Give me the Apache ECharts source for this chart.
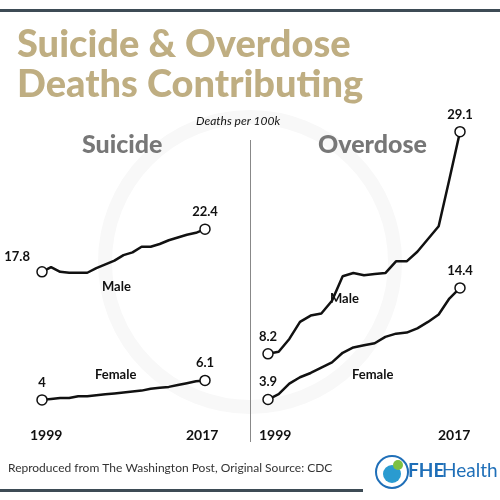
<!DOCTYPE html>
<html><head><meta charset="utf-8">
<script src="https://cdn.jsdelivr.net/npm/echarts@6/dist/echarts.min.js"></script>
<style>html,body{margin:0;padding:0;background:#fff}#c{width:500px;height:500px}</style>
</head><body><div id="c"></div>
<script>
const years = ['1999','2000','2001','2002','2003','2004','2005','2006','2007','2008','2009','2010','2011','2012','2013','2014','2015','2016','2017'];
const suicideMale = [17.8,18.3,17.8,17.7,17.7,17.7,18.2,18.6,19.0,19.6,19.9,20.5,20.5,20.8,21.2,21.5,21.8,22.0,22.4];
const suicideFemale = [4.0,4.1,4.2,4.2,4.4,4.4,4.5,4.6,4.7,4.8,4.9,5.0,5.2,5.3,5.4,5.6,5.8,6.0,6.1];
const overdoseMale = [8.2,8.4,9.6,11.2,11.8,12.0,13.2,15.5,15.8,15.6,15.7,15.8,16.9,16.9,17.8,19.0,20.2,24.6,29.1];
const overdoseFemale = [3.9,4.4,5.4,6.0,6.4,6.9,7.4,8.3,8.8,9.0,9.2,9.8,10.1,10.2,10.6,11.2,11.9,13.4,14.4];

function mk(vals, gi, firstPos) {
  const n = vals.length;
  return {
    type:'line', xAxisIndex:gi, yAxisIndex:gi, silent:true, clip:false, showAllSymbol:true,
    lineStyle:{color:'#111',width:2.5}, symbol:'none',
    data: vals.map((v,i)=> (i===0||i===n-1) ? {
      value:v, symbol:'circle', symbolSize:10,
      itemStyle:{color:'#fff',borderColor:'#111',borderWidth:1.5},
      label:{show:true, position:(i===0?firstPos:'top'), formatter:String(v), fontFamily:'Lato', fontWeight:'bold', fontSize:13, color:'#111', distance:5}
    } : v),
    z:5
  };
}
const t = (x,y,txt,o={}) => ({type:'text',x,y,style:Object.assign({text:txt,fill:'#111',font:'bold 13px Lato'},o)});
const chart = echarts.init(document.getElementById('c'));
chart.setOption({
  animation:false,
  grid:[{left:42,width:163,top:158.6,height:278.4},{left:268,width:192,top:122.1,height:318.9}],
  xAxis:[0,1].map(i=>({type:'category',gridIndex:i,data:years,boundaryGap:false,show:false})),
  yAxis:[0,1].map(i=>({type:'value',gridIndex:i,min:0,max:30,show:false})),
  series:[
    mk(suicideMale,0,[-32,-16]), mk(suicideFemale,0,'top'),
    mk(overdoseMale,1,'top'), mk(overdoseFemale,1,'top')
  ],
  graphic:[
    {type:'circle',shape:{cx:250,cy:262,r:145},style:{fill:'none',stroke:'#f8f8f8',lineWidth:14},z:-10},
    {type:'rect',shape:{x:0,y:9,width:500,height:3},style:{fill:'#3d4b55'}},
    {type:'rect',shape:{x:0,y:489,width:363,height:3},style:{fill:'#3d4b55'}},
    t(17,26,'Suicide & Overdose',{fill:'#bfae82',font:'900 38px Lato'}),
    t(17,66,'Deaths Contributing',{fill:'#bfae82',font:'900 38px Lato'}),
    t(196,115,'Deaths per 100k',{font:'italic 12px Lato'}),
    t(82,132,'Suicide',{fill:'#777',font:'900 25px Lato'}),
    t(318,132,'Overdose',{fill:'#777',font:'900 25px Lato'}),
    {type:'rect',shape:{x:250,y:140,width:1,height:302},style:{fill:'#888'}},
    t(102,280,'Male'), t(95,368,'Female'), t(330,292,'Male'), t(352,368,'Female'),
    t(30,428,'1999',{font:'bold 14px Lato'}), t(186,428,'2017',{font:'bold 14px Lato'}),
    t(259,428,'1999',{font:'bold 14px Lato'}), t(438,428,'2017',{font:'bold 14px Lato'}),
    t(8,462,'Reproduced from The Washington Post, Original Source: CDC',{fill:'#333',font:'12px Lato'}),
    {type:'circle',shape:{cx:392,cy:472,r:16},style:{fill:'#fff',stroke:'#1f6fb8',lineWidth:2}},
    {type:'circle',shape:{cx:392,cy:474,r:9},style:{fill:'#2a9bd0'}},
    {type:'circle',shape:{cx:398,cy:465,r:5},style:{fill:'#7dc142'}},
    t(408,461,'FHE',{fill:'#1f6fb8',font:'bold 19px Lato'}),
    t(442,461,'Health',{fill:'#1f6fb8',font:'19px Lato'})
  ]
});
</script></body></html>
